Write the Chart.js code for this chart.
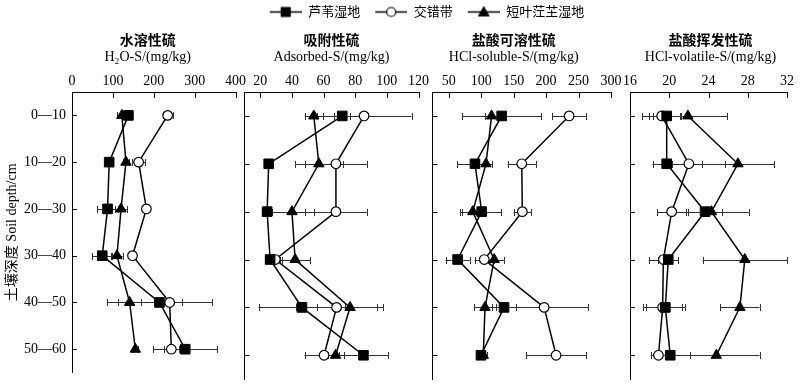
<!DOCTYPE html>
<html>
<head>
<meta charset="utf-8">
<script src="https://cdn.jsdelivr.net/npm/chart.js@4.4.0/dist/chart.umd.min.js"></script>
<style>
  body { margin: 0; background: #fff; }
  #wrap { position: relative; width: 800px; height: 387px; }
  #wrap canvas { position: absolute; left: 0; top: 0; }
</style>
</head>
<body>
<div id="wrap">
  <canvas id="legendChart" width="800" height="387"></canvas>
  <canvas id="h2oChart" width="800" height="387"></canvas>
  <canvas id="adsChart" width="800" height="387"></canvas>
  <canvas id="hclSolChart" width="800" height="387"></canvas>
  <canvas id="hclVolChart" width="800" height="387"></canvas>
</div>
<script>
// depth classes and groups
const depthLabels = ['0—10', '10—20', '20—30', '30—40', '40—50', '50—60'];
const groupNames = ['芦苇湿地', '交错带', '短叶茳芏湿地'];

// 水溶性硫 H2O-S
const h2oTicks = [0, 100, 200, 300, 400];
const h2oReed = [138, 91, 87, 74, 214, 277];
const h2oReedErr = [8, 10, 26, 24, 129, 78];
const h2oEcotone = [234, 163, 182, 148, 239, 243];
const h2oEcotoneErr = [12, 16, 5, 8, 30, 19];
const h2oCyperus = [122, 132, 120, 110, 141, 155];
const h2oCyperusErr = [12, 8, 14, 14, 28, 6];

// 吸附性硫 Adsorbed-S
const adsTicks = [20, 40, 60, 80, 100, 120];
const adsReed = [71.8, 25.3, 24.3, 26.2, 46.3, 85.2];
const adsReedErr = [5, 3, 3, 3, 27.4, 15.5];
const adsEcotone = [85.6, 67.8, 67.8, 29.5, 68.2, 60.3];
const adsEcotoneErr = [30, 19.5, 19.5, 4, 25.5, 12.3];
const adsCyperus = [53.8, 57, 40, 42, 76.7, 67.6];
const adsCyperusErr = [5.7, 15, 13.8, 9.5, 20.8, 5];

// 盐酸可溶性硫 HCl-soluble-S
const hclSolTicks = [50, 100, 150, 200, 250, 300];
const hclSolReed = [131.6, 90.4, 100.8, 63.7, 135.2, 99.7];
const hclSolReedErr = [61, 27, 30, 18.5, 18, 5];
const hclSolEcotone = [235.5, 162.5, 163.4, 104.8, 197, 215.4];
const hclSolEcotoneErr = [25.7, 21.6, 13.4, 15, 68, 46];
const hclSolCyperus = [116, 107.4, 87, 120, 105.9, 103.2];
const hclSolCyperusErr = [10, 10, 19.5, 15.4, 16.5, 5];

// 盐酸挥发性硫 HCl-volatile-S
const hclVolTicks = [16, 20, 24, 28, 32];
const hclVolReed = [19.74, 19.74, 23.65, 19.9, 19.6, 20.1];
const hclVolReedErr = [1.4, 0.5, 1.7, 1.0, 2.0, 2.0];
const hclVolEcotone = [19.23, 22.0, 20.25, 19.4, 19.33, 18.9];
const hclVolEcotoneErr = [2.0, 3.7, 1.5, 1.5, 2.0, 0.4];
const hclVolCyperus = [21.9, 27.0, 24.3, 27.7, 27.2, 24.8];
const hclVolCyperusErr = [4.0, 3.7, 3.8, 4.3, 2.0, 4.4];

const serif = "'Liberation Serif', 'Noto Sans CJK SC', serif";
const cjk = "'Noto Sans CJK SC', sans-serif";

const markerStyles = [
    { pointStyle: 'rect', pointRadius: 6.8, pointBackgroundColor: '#000', pointBorderColor: '#000', pointBorderWidth: 1 },
    { pointStyle: 'circle', pointRadius: 4.8, pointBackgroundColor: '#fff', pointBorderColor: '#000', pointBorderWidth: 1.2 },
    { pointStyle: 'triangle', pointRadius: 6, pointBackgroundColor: '#000', pointBorderColor: '#000', pointBorderWidth: 1 }
];

// error bars under the markers, inward ticks and panel titles
const panelDecor = {
    id: 'panelDecor',
    beforeDatasetsDraw(chart) {
        const ctx = chart.ctx;
        const xs = chart.scales.x;
        ctx.save();
        ctx.strokeStyle = '#333';
        ctx.lineWidth = 1;
        chart.data.datasets.forEach((ds, k) => {
            const meta = chart.getDatasetMeta(k);
            ds.data.forEach((v, i) => {
                const e = ds.errors[i];
                const py = Math.round(meta.data[i].y) + 0.5;
                const x1 = xs.getPixelForValue(v - e);
                const x2 = xs.getPixelForValue(v + e);
                ctx.beginPath();
                ctx.moveTo(x1, py);
                ctx.lineTo(x2, py);
                ctx.moveTo(Math.round(x1) + 0.5, py - 3.5);
                ctx.lineTo(Math.round(x1) + 0.5, py + 3.5);
                ctx.moveTo(Math.round(x2) + 0.5, py - 3.5);
                ctx.lineTo(Math.round(x2) + 0.5, py + 3.5);
                ctx.stroke();
            });
        });
        ctx.restore();
    },
    afterDraw(chart, args, opts) {
        const ctx = chart.ctx;
        const area = chart.chartArea;
        const xs = chart.scales.x;
        const ys = chart.scales.y;
        ctx.save();
        ctx.strokeStyle = '#000';
        ctx.lineWidth = 1;
        ctx.beginPath();
        xs.ticks.forEach((t, i) => {
            const px = Math.round(xs.getPixelForTick(i)) + 0.5;
            ctx.moveTo(px, area.top);
            ctx.lineTo(px, area.top + 6);
        });
        ys.ticks.forEach((t, i) => {
            const py = Math.round(ys.getPixelForTick(i)) + 0.5;
            ctx.moveTo(area.left, py);
            ctx.lineTo(area.left + 5, py);
        });
        ctx.stroke();

        const cx = (area.left + area.right) / 2 + (opts.dx || 0);
        ctx.fillStyle = '#000';
        ctx.textAlign = 'center';
        ctx.textBaseline = 'middle';
        ctx.font = 'bold 14px ' + cjk;
        ctx.fillText(opts.title, cx, 40);
        ctx.font = '14px ' + serif;
        ctx.fillText(opts.subtitle, cx, 57);
        ctx.restore();
    }
};

function makePanel(id, cfg) {
    const datasets = cfg.series.map((s, k) => Object.assign({
        label: groupNames[k],
        data: s[0],
        errors: s[1],
        borderColor: '#000',
        borderWidth: 1.5,
        fill: false,
        tension: 0
    }, markerStyles[k]));

    return new Chart(document.getElementById(id), {
        type: 'line',
        data: { labels: depthLabels, datasets: datasets },
        options: {
            indexAxis: 'y',
            responsive: false,
            animation: false,
            layout: { padding: { left: cfg.left - cfg.yWidth, right: 800 - cfg.right, top: 0, bottom: 4 } },
            plugins: {
                legend: { display: false },
                tooltip: { enabled: false },
                panelDecor: { title: cfg.title, subtitle: cfg.subtitle, dx: cfg.dx }
            },
            scales: {
                x: {
                    type: 'linear',
                    position: 'top',
                    min: cfg.min,
                    max: cfg.max,
                    afterBuildTicks: s => { s.ticks = cfg.ticks.map(v => ({ value: v })); },
                    afterFit: s => { s.height = 92; },
                    grid: { display: false, drawTicks: false },
                    border: { display: true, color: '#000', width: 1 },
                    ticks: {
                        autoSkip: false, maxRotation: 0, color: '#000', padding: 2,
                        font: { family: serif, size: 14 }
                    }
                },
                y: {
                    type: 'category',
                    offset: true,
                    afterFit: s => { s.width = cfg.yWidth; },
                    grid: { display: false, drawTicks: false },
                    border: { display: true, color: '#000', width: 1 },
                    ticks: {
                        display: cfg.showY, color: '#000', padding: 6,
                        font: { family: serif, size: 14 }
                    },
                    title: {
                        display: cfg.showY,
                        text: '土壤深度 Soil depth/cm',
                        color: '#000',
                        padding: 4,
                        font: { family: serif, size: 14 }
                    }
                }
            }
        },
        plugins: [panelDecor]
    });
}

makePanel('h2oChart', {
    left: 72, right: 235.5, yWidth: 72, showY: true, dx: -6,
    min: 0, max: 400, ticks: h2oTicks,
    title: '水溶性硫', subtitle: 'H₂O-S/(mg/kg)',
    series: [[h2oReed, h2oReedErr], [h2oEcotone, h2oEcotoneErr], [h2oCyperus, h2oCyperusErr]]
});
makePanel('adsChart', {
    left: 244.5, right: 418.5, yWidth: 0, showY: false, dx: 0,
    min: 10, max: 120, ticks: adsTicks,
    title: '吸附性硫', subtitle: 'Adsorbed-S/(mg/kg)',
    series: [[adsReed, adsReedErr], [adsEcotone, adsEcotoneErr], [adsCyperus, adsCyperusErr]]
});
makePanel('hclSolChart', {
    left: 432.5, right: 611, yWidth: 0, showY: false, dx: -8,
    min: 25, max: 300, ticks: hclSolTicks,
    title: '盐酸可溶性硫', subtitle: 'HCl-soluble-S/(mg/kg)',
    series: [[hclSolReed, hclSolReedErr], [hclSolEcotone, hclSolEcotoneErr], [hclSolCyperus, hclSolCyperusErr]]
});
makePanel('hclVolChart', {
    left: 630, right: 787, yWidth: 0, showY: false, dx: 2,
    min: 16, max: 32, ticks: hclVolTicks,
    title: '盐酸挥发性硫', subtitle: 'HCl-volatile-S/(mg/kg)',
    series: [[hclVolReed, hclVolReedErr], [hclVolEcotone, hclVolEcotoneErr], [hclVolCyperus, hclVolCyperusErr]]
});

// legend: line with marker, drawn into small canvases used as point styles
function legendIcon(k) {
    const c = document.createElement('canvas');
    c.width = 42; c.height = 14;
    const g = c.getContext('2d');
    g.strokeStyle = '#000';
    g.lineWidth = 1.5;
    g.beginPath();
    g.moveTo(10, 7.5);
    g.lineTo(42, 7.5);
    g.stroke();
    g.fillStyle = k === 1 ? '#fff' : '#000';
    g.lineWidth = 1.2;
    g.beginPath();
    if (k === 0) {
        g.rect(21.5, 3, 9, 9);
    } else if (k === 1) {
        g.arc(26, 7.5, 4.5, 0, Math.PI * 2);
    } else {
        g.moveTo(26, 2.5); g.lineTo(31, 11.5); g.lineTo(21, 11.5); g.closePath();
    }
    g.fill();
    g.stroke();
    return c;
}

new Chart(document.getElementById('legendChart'), {
    type: 'line',
    data: {
        labels: [],
        datasets: groupNames.map((name, k) => ({
            label: name, data: [], borderColor: '#000', pointStyle: legendIcon(k)
        }))
    },
    options: {
        responsive: false,
        animation: false,
        layout: { padding: { left: 44, right: 0, top: 0, bottom: 0 } },
        scales: { x: { display: false }, y: { display: false } },
        plugins: {
            tooltip: { enabled: false },
            legend: {
                position: 'top',
                labels: {
                    usePointStyle: true,
                    pointStyleWidth: 42,
                    padding: 5,
                    color: '#000',
                    font: { family: cjk, size: 13 }
                }
            }
        }
    }
});
</script>
</body>
</html>
